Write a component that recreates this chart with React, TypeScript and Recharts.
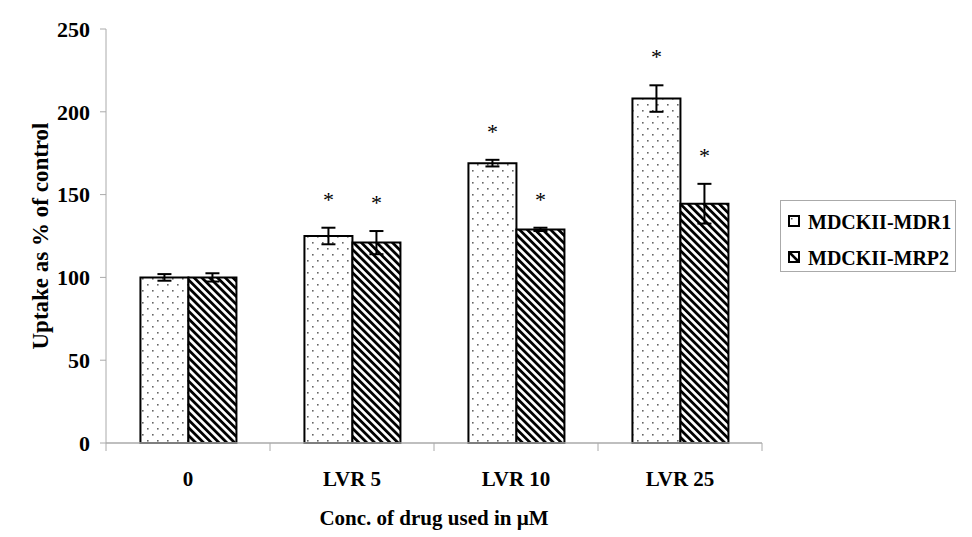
import { BarChart, Bar, XAxis, YAxis, ErrorBar, LabelList } from "recharts"

const categories = ["0", "LVR 5", "LVR 10", "LVR 25"]
const mdr1 = [100, 125, 169, 208]
const mdr1Err = [2, 5, 2, 8]
const mdr1Sig = [false, true, true, true]
const mrp2 = [100, 121, 129, 144.5]
const mrp2Err = [2.5, 7, 1, 12]
const mrp2Sig = [false, true, true, true]
const yTicks = [0, 50, 100, 150, 200, 250]

const data = categories.map((c, i) => ({
  name: c,
  mdr1: mdr1[i],
  mdr1Err: mdr1Err[i],
  mrp2: mrp2[i],
  mrp2Err: mrp2Err[i],
}))

const FONT = "'Liberation Serif', 'Times New Roman', serif"

function starLabel(errs: number[], sig: boolean[]) {
  return (props: any) => {
    const { x, y, width, height, value, index } = props
    if (!sig[index]) return null
    const perUnit = height / value
    const top = y - errs[index] * perUnit
    return (
      <text x={x + width / 2} y={top - 21} textAnchor="middle" fontFamily={FONT} fontSize={22} fill="#000">
        *
      </text>
    )
  }
}

function CatTick(props: any) {
  const { x, y, payload, index } = props
  const half = payload.offset ?? 82
  return (
    <g>
      <line x1={x - half} y1={y - 8} x2={x - half} y2={y} stroke="#aaa" strokeWidth={1} />
      {index === categories.length - 1 && (
        <line x1={x + half} y1={y - 8} x2={x + half} y2={y} stroke="#aaa" strokeWidth={1} />
      )}
      <text x={x} y={y + 35} textAnchor="middle" fontFamily={FONT} fontWeight="bold" fontSize={21} fill="#000">
        {payload.value}
      </text>
    </g>
  )
}

function YTitle(props: any) {
  const { viewBox } = props
  const cy = viewBox.y + viewBox.height / 2
  const cx = 40
  return (
    <text
      x={cx}
      y={cy}
      transform={`rotate(-90 ${cx} ${cy})`}
      textAnchor="middle"
      dominantBaseline="central"
      fontFamily={FONT}
      fontWeight="bold"
      fontSize={23}
      fill="#000"
    >
      Uptake as % of control
    </text>
  )
}

function Legend() {
  return (
    <div
      style={{
        position: "absolute",
        left: 780,
        top: 200,
        width: 176,
        height: 72,
        border: "1px solid #aaa",
        boxSizing: "border-box",
        fontFamily: FONT,
        fontWeight: "bold",
        fontSize: 20,
        lineHeight: "20px",
        color: "#000",
      }}
    >
      <svg width={12} height={12} style={{ position: "absolute", left: 7, top: 14 }}>
        <rect x={1} y={1} width={10} height={10} fill="#fff" stroke="#000" strokeWidth={2} />
        <rect x={3} y={3} width={1.5} height={1.5} fill="#555" />
      </svg>
      <span style={{ position: "absolute", left: 27, top: 11 }}>MDCKII-MDR1</span>
      <svg width={12} height={12} style={{ position: "absolute", left: 7, top: 50 }}>
        <rect x={1} y={1} width={10} height={10} fill="#fff" stroke="#000" strokeWidth={2} />
        <line x1={2} y1={2} x2={10} y2={10} stroke="#000" strokeWidth={2.5} />
      </svg>
      <span style={{ position: "absolute", left: 27, top: 47 }}>MDCKII-MRP2</span>
    </div>
  )
}

export default function App() {
  return (
    <div style={{ position: "absolute", left: 0, top: 0, width: 972, height: 537, background: "#fff" }}>
      <BarChart
        width={972}
        height={537}
        data={data}
        margin={{ top: 29, right: 210, left: 46, bottom: 0 }}
        barCategoryGap="21%"
        barGap={0}
      >
        <defs>
          <pattern id="dots" width={10} height={12} patternUnits="userSpaceOnUse">
            <rect width={10} height={12} fill="#fff" />
            <rect x={2} y={2} width={1.6} height={1.6} fill="#666" />
            <rect x={7} y={8} width={1.6} height={1.6} fill="#666" />
          </pattern>
          <pattern id="stripes" width={5.5} height={5.5} patternUnits="userSpaceOnUse" patternTransform="rotate(-45)">
            <rect width={5.5} height={5.5} fill="#fff" />
            <rect x={0} y={0} width={2.8} height={5.5} fill="#000" />
          </pattern>
        </defs>
        <XAxis
          dataKey="name"
          axisLine={{ stroke: "#aaa", strokeWidth: 1.5 }}
          tickLine={false}
          tick={<CatTick />}
          height={94}
          interval={0}
          label={{
            value: "Conc. of drug used in µM",
            position: "insideBottom",
            offset: 12,
            style: { fontFamily: FONT, fontWeight: "bold", fontSize: 21, fill: "#000" },
          }}
        />
        <YAxis
          domain={[0, 250]}
          ticks={yTicks}
          width={60}
          axisLine={{ stroke: "#aaa", strokeWidth: 1 }}
          tickLine={{ stroke: "#aaa" }}
          tickSize={6}
          tickMargin={10}
          tick={{ fontFamily: FONT, fontWeight: "bold", fontSize: 22, fill: "#000" }}
          label={<YTitle />}
        />
        <Bar dataKey="mdr1" fill="url(#dots)" stroke="#000" strokeWidth={2} isAnimationActive={false}>
          <ErrorBar dataKey="mdr1Err" width={7} stroke="#000" strokeWidth={2} direction="y" />
          <LabelList dataKey="mdr1" content={starLabel(mdr1Err, mdr1Sig)} />
        </Bar>
        <Bar dataKey="mrp2" fill="url(#stripes)" stroke="#000" strokeWidth={2} isAnimationActive={false}>
          <ErrorBar dataKey="mrp2Err" width={7} stroke="#000" strokeWidth={2} direction="y" />
          <LabelList dataKey="mrp2" content={starLabel(mrp2Err, mrp2Sig)} />
        </Bar>
      </BarChart>
      <Legend />
    </div>
  )
}
